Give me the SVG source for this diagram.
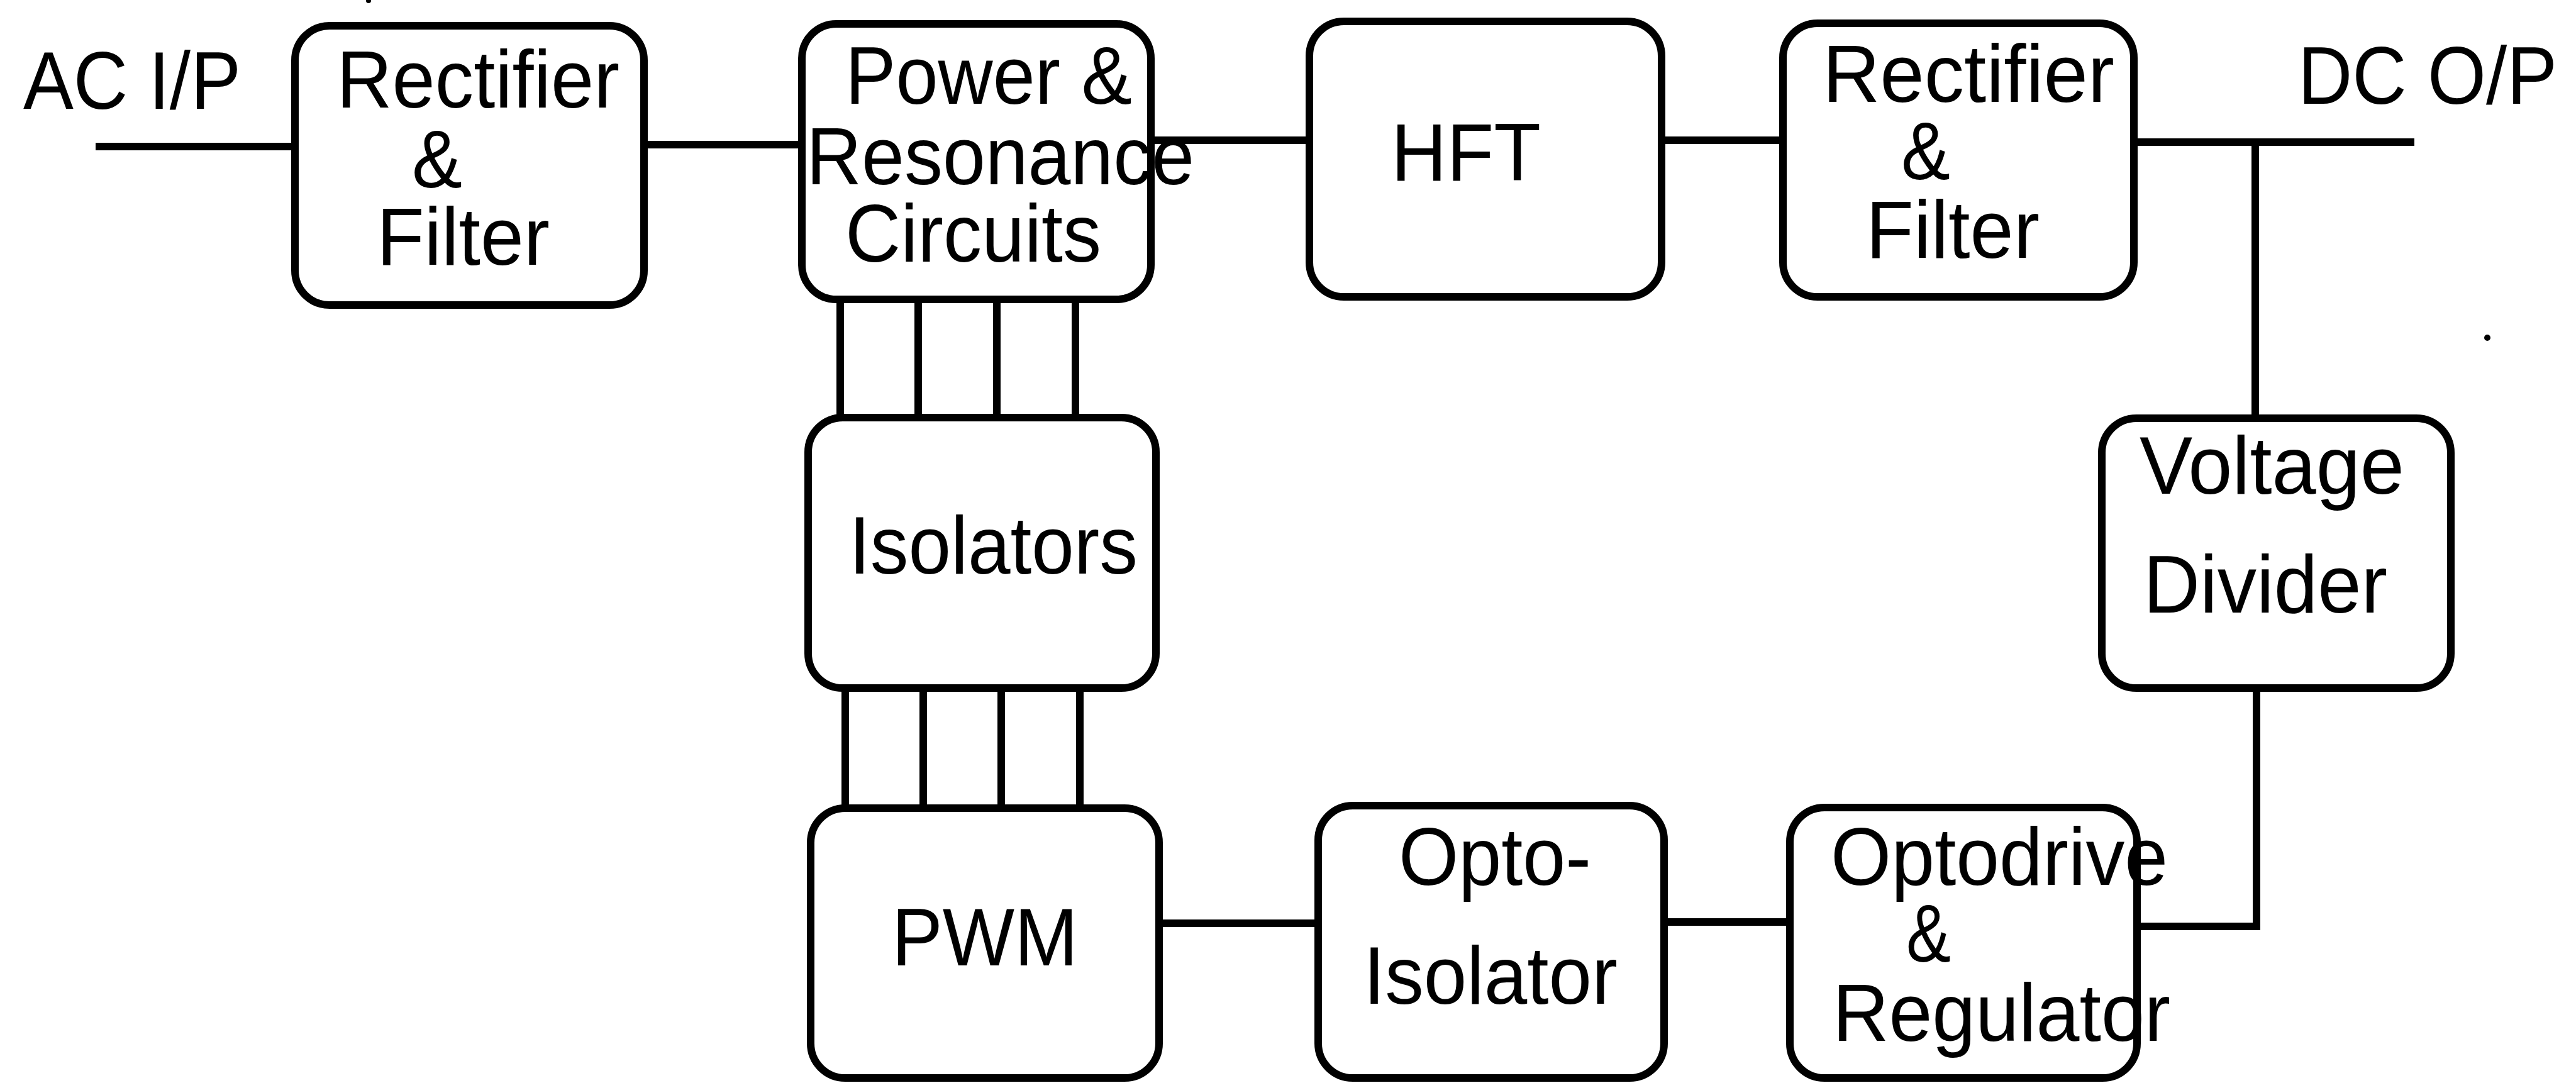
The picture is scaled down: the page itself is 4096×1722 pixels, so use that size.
<svg xmlns="http://www.w3.org/2000/svg" width="4096" height="1722" viewBox="0 0 4096 1722">
<style>
.box{fill:#fff;stroke:#000;stroke-width:12}
.wire{fill:none;stroke:#000;stroke-width:12;stroke-linecap:butt;stroke-linejoin:miter}
.lbl{font-family:"Liberation Sans",Arial,sans-serif;font-size:130px;fill:#000}
</style>
<rect width="4096" height="1722" fill="#fff"/>
<g id="connectors">
<line class="wire" x1="152" y1="233" x2="469" y2="233"/>
<line class="wire" x1="1024" y1="230" x2="1275" y2="230"/>
<line class="wire" x1="1830" y1="223" x2="2082" y2="223"/>
<line class="wire" x1="2642" y1="223" x2="2835" y2="223"/>
<line class="wire" x1="3393" y1="226" x2="3839" y2="226"/>
<line class="wire" x1="3586" y1="226" x2="3586" y2="665"/>
<polyline class="wire" points="3588,1094 3588,1473 3398,1473"/>
<line class="wire" x1="2646" y1="1466" x2="2846" y2="1466"/>
<line class="wire" x1="1843" y1="1468" x2="2096" y2="1468"/>
<line class="wire" x1="1336" y1="476" x2="1336" y2="664"/>
<line class="wire" x1="1460" y1="476" x2="1460" y2="664"/>
<line class="wire" x1="1585" y1="476" x2="1585" y2="664"/>
<line class="wire" x1="1710" y1="476" x2="1710" y2="664"/>
<line class="wire" x1="1344" y1="1094" x2="1344" y2="1285"/>
<line class="wire" x1="1468" y1="1094" x2="1468" y2="1285"/>
<line class="wire" x1="1592" y1="1094" x2="1592" y2="1285"/>
<line class="wire" x1="1717" y1="1094" x2="1717" y2="1285"/>
</g>
<g id="ac-input"><text class="lbl" x="37" y="173" textLength="346" lengthAdjust="spacingAndGlyphs">AC I/P</text></g>
<g id="dc-output"><text class="lbl" x="3654" y="165" textLength="412" lengthAdjust="spacingAndGlyphs">DC O/P</text></g>
<g id="rectifier-filter-1">
<rect class="box" x="469" y="41" width="555" height="444" rx="55"/>
<text class="lbl" x="535" y="171" textLength="450" lengthAdjust="spacingAndGlyphs">Rectifier</text>
<text class="lbl" x="655" y="298" textLength="80" lengthAdjust="spacingAndGlyphs">&amp;</text>
<text class="lbl" x="599" y="421" textLength="275" lengthAdjust="spacingAndGlyphs">Filter</text>
</g>
<g id="power-resonance">
<rect class="box" x="1275" y="38" width="555" height="438" rx="55"/>
<text class="lbl" x="1344" y="165" textLength="456" lengthAdjust="spacingAndGlyphs">Power &amp;</text>
<text class="lbl" x="1282" y="293" textLength="617" lengthAdjust="spacingAndGlyphs">Resonance</text>
<text class="lbl" x="1344" y="416" textLength="407" lengthAdjust="spacingAndGlyphs">Circuits</text>
</g>
<g id="hft">
<rect class="box" x="2082" y="34" width="560" height="438" rx="55"/>
<text class="lbl" x="2212" y="287" textLength="238" lengthAdjust="spacingAndGlyphs">HFT</text>
</g>
<g id="rectifier-filter-2">
<rect class="box" x="2835" y="37" width="558" height="435" rx="55"/>
<text class="lbl" x="2898" y="162" textLength="464" lengthAdjust="spacingAndGlyphs">Rectifier</text>
<text class="lbl" x="3023" y="285" textLength="78" lengthAdjust="spacingAndGlyphs">&amp;</text>
<text class="lbl" x="2967" y="410" textLength="276" lengthAdjust="spacingAndGlyphs">Filter</text>
</g>
<g id="isolators">
<rect class="box" x="1285" y="664" width="553" height="430" rx="55"/>
<text class="lbl" x="1350" y="912" textLength="459" lengthAdjust="spacingAndGlyphs">Isolators</text>
</g>
<g id="voltage-divider">
<rect class="box" x="3342" y="665" width="555" height="429" rx="55"/>
<text class="lbl" x="3402" y="785" textLength="421" lengthAdjust="spacingAndGlyphs">Voltage</text>
<text class="lbl" x="3408" y="974" textLength="388" lengthAdjust="spacingAndGlyphs">Divider</text>
</g>
<g id="pwm">
<rect class="box" x="1289" y="1285" width="554" height="429" rx="55"/>
<text class="lbl" x="1418" y="1535" textLength="296" lengthAdjust="spacingAndGlyphs">PWM</text>
</g>
<g id="opto-isolator">
<rect class="box" x="2096" y="1281" width="550" height="433" rx="55"/>
<text class="lbl" x="2224" y="1407" textLength="306" lengthAdjust="spacingAndGlyphs">Opto-</text>
<text class="lbl" x="2168" y="1596" textLength="404" lengthAdjust="spacingAndGlyphs">Isolator</text>
</g>
<g id="optodrive-regulator">
<rect class="box" x="2846" y="1284" width="552" height="430" rx="55"/>
<text class="lbl" x="2911" y="1407" textLength="536" lengthAdjust="spacingAndGlyphs">Optodrive</text>
<text class="lbl" x="3031" y="1529" textLength="71" lengthAdjust="spacingAndGlyphs">&amp;</text>
<text class="lbl" x="2914" y="1655" textLength="537" lengthAdjust="spacingAndGlyphs">Regulator</text>
</g>
<circle cx="3955" cy="537" r="5" fill="#000"/>
<circle cx="586" cy="1" r="4" fill="#000"/>
</svg>
